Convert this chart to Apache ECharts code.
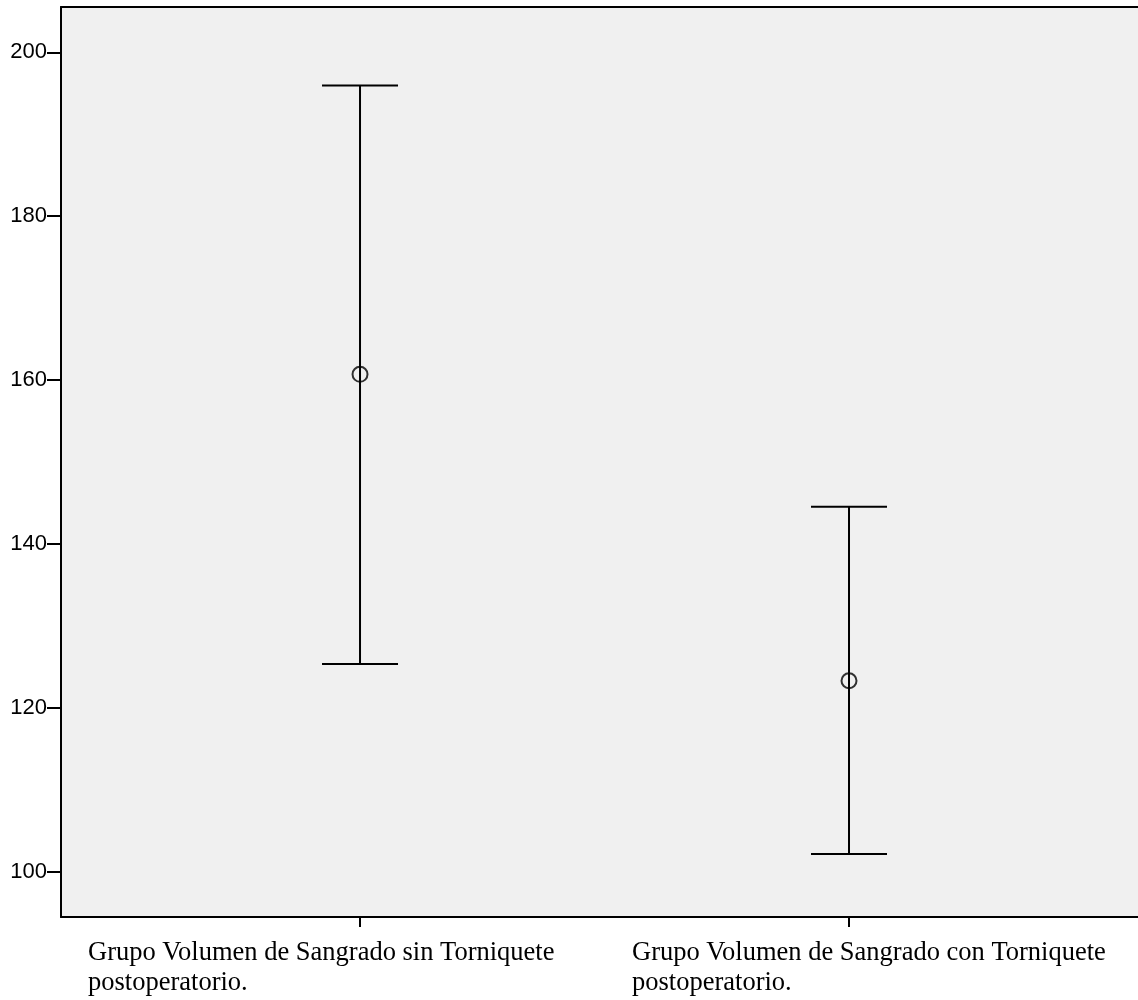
<!DOCTYPE html>
<html>
<head>
<meta charset="utf-8">
<script src="https://cdn.jsdelivr.net/npm/echarts@6/dist/echarts.min.js"></script>
<style>
  html, body { margin: 0; padding: 0; background: #fff; }
  #chart { width: 1138px; height: 1000px; }
</style>
</head>
<body>
<div id="chart"></div>
<script>
// datos del grafico (medias e intervalos)
var categories = [
  "Grupo Volumen de Sangrado sin Torniquete\npostoperatorio.",
  "Grupo Volumen de Sangrado con Torniquete\npostoperatorio."
];
var xPositions = [1, 2];
var means = [160.7, 123.3];
var lower = [125.35, 102.15];
var upper = [195.95, 144.55];
var yTicks = [100, 120, 140, 160, 180, 200];

var chart = echarts.init(document.getElementById("chart"));

var barData = xPositions.map(function (x, i) {
  return [x, lower[i], upper[i]];
});
var meanData = xPositions.map(function (x, i) {
  return [x, means[i]];
});

var labelFont = {
  fontFamily: "Liberation Serif",
  fontSize: 26.5,
  lineHeight: 30,
  color: "#000"
};
var blackLine = { color: "#000", width: 2 };

var option = {
  animation: false,
  grid: {
    left: 61,
    right: 0,
    top: 7,
    bottom: 83,
    show: true,
    backgroundColor: "#F0F0F0",
    borderWidth: 0
  },
  xAxis: [
    {
      type: "value",
      min: 0.3885,
      max: 2.591,
      splitLine: { show: false },
      axisLine: { show: true, onZero: false, lineStyle: blackLine },
      axisTick: {
        show: true,
        length: 10,
        customValues: xPositions,
        lineStyle: blackLine
      },
      axisLabel: {
        customValues: xPositions,
        align: "left",
        verticalAlign: "top",
        margin: 21,
        formatter: function (value) {
          var i = xPositions.indexOf(value);
          if (i < 0) return "";
          return categories[i].split("\n").map(function (l) {
            return "{c" + i + "|" + l + "}";
          }).join("\n");
        },
        rich: {
          c0: Object.assign({ padding: [0, 0, 0, -272] }, labelFont),
          c1: Object.assign({ padding: [0, 0, 0, -217] }, labelFont)
        }
      }
    },
    {
      // borde superior
      type: "value",
      position: "top",
      min: 0.3885,
      max: 2.591,
      splitLine: { show: false },
      axisLine: { show: true, onZero: false, lineStyle: blackLine },
      axisTick: { show: false },
      axisLabel: { show: false }
    }
  ],
  yAxis: {
    type: "value",
    min: 94.47,
    max: 205.53,
    splitLine: { show: false },
    axisLine: { show: true, onZero: false, lineStyle: blackLine },
    axisTick: {
      show: true,
      length: 14,
      customValues: yTicks,
      lineStyle: blackLine
    },
    axisLabel: {
      customValues: yTicks,
      margin: 14,
      padding: [6, 0, 0, 0],
      color: "#000",
      fontFamily: "Liberation Sans",
      fontSize: 22
    }
  },
  series: [
    {
      name: "IC",
      type: "custom",
      data: barData,
      renderItem: function (params, api) {
        var x = api.value(0);
        var lo = api.coord([x, api.value(1)]);
        var hi = api.coord([x, api.value(2)]);
        var half = 38;
        var st = { stroke: "#000", lineWidth: 2 };
        return {
          type: "group",
          children: [
            { type: "line", shape: { x1: lo[0], y1: lo[1], x2: hi[0], y2: hi[1] }, style: st },
            { type: "line", shape: { x1: hi[0] - half, y1: hi[1], x2: hi[0] + half, y2: hi[1] }, style: st },
            { type: "line", shape: { x1: lo[0] - half, y1: lo[1], x2: lo[0] + half, y2: lo[1] }, style: st }
          ]
        };
      }
    },
    {
      name: "Media",
      type: "scatter",
      data: meanData,
      symbol: "circle",
      symbolSize: 15,
      z: 5,
      itemStyle: {
        color: "rgba(0,0,0,0)",
        borderColor: "#000",
        borderWidth: 2
      }
    }
  ]
};

chart.setOption(option);
</script>
</body>
</html>
